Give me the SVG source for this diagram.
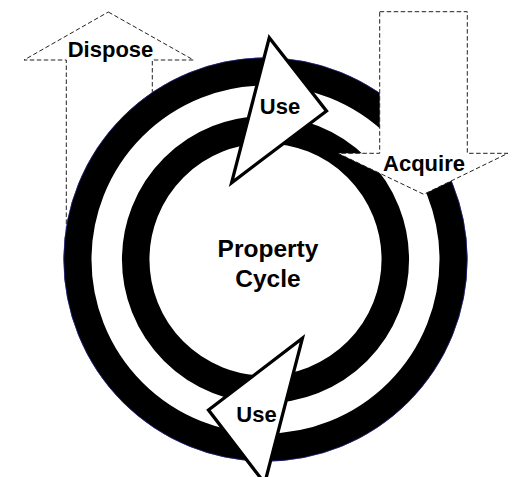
<svg xmlns="http://www.w3.org/2000/svg" width="517" height="477" viewBox="0 0 517 477">
  <style>
    .dash { fill: #ffffff; stroke: #222222; stroke-width: 1; stroke-dasharray: 4.5 2.5; }
    .ring { fill: none; stroke: #000000; }
    .head { fill: #ffffff; stroke: #000000; stroke-width: 3.3; stroke-linejoin: miter; stroke-miterlimit: 10; }
    .lbl { font-family: "Liberation Sans", Arial, sans-serif; font-weight: bold; font-size: 22px; fill: #000000; text-anchor: middle; }
    .title { font-family: "Liberation Sans", Arial, sans-serif; font-weight: bold; font-size: 24.5px; fill: #000000; text-anchor: middle; }
  </style>
  <rect x="0" y="0" width="517" height="477" fill="#ffffff"/>

  <g id="dispose">
    <polygon class="dash" points="108.3,12 193.5,60 152.3,60 152.3,250 66.3,250 66.3,60 24,60"/>
    <text class="lbl" x="110.5" y="56.5">Dispose</text>
  </g>

  <g id="cycle">
    <circle cx="265.5" cy="259.5" r="188" fill="#ffffff" stroke="#000000" stroke-width="28"/>
    <circle cx="265.5" cy="259.5" r="201.7" fill="none" stroke="#2a2a9a" stroke-width="0.7"/>
    <circle class="ring" cx="265.5" cy="259.5" r="129.8" stroke-width="27.5"/>
    <text class="title" x="268" y="257">Property</text>
    <text class="title" x="268" y="287">Cycle</text>
  </g>

  <g id="connectors">
    <g id="use-top">
      <polygon class="head" points="269.3,37.7 326.5,111 231.6,182.7"/>
      <text class="lbl" x="280" y="114">Use</text>
    </g>
    <g id="use-bottom">
      <polygon class="head" points="264.7,483.3 208.5,410 302.4,338.3"/>
      <text class="lbl" x="256.5" y="421.5">Use</text>
    </g>
  </g>

  <g id="acquire">
    <polygon class="dash" points="379.7,11.7 467.3,11.7 467.3,153.3 508,153.3 423.7,194.3 338,153.3 379.7,153.3"/>
    <text class="lbl" x="424" y="170.5">Acquire</text>
  </g>
</svg>
